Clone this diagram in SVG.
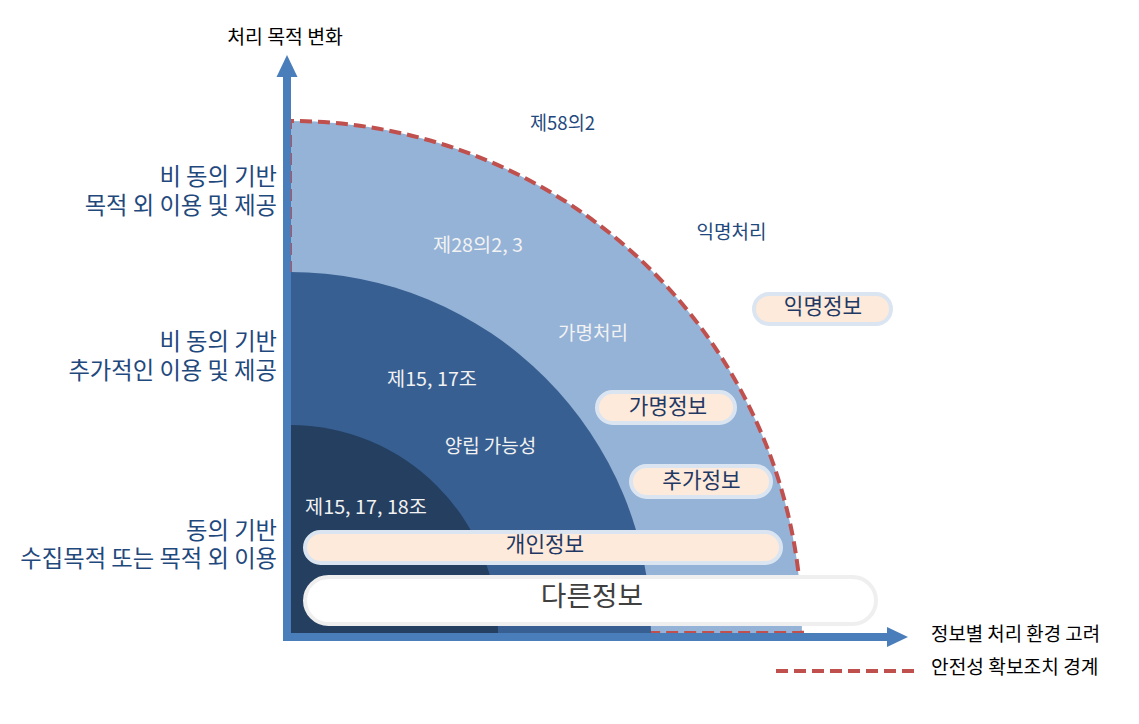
<svg xmlns="http://www.w3.org/2000/svg" width="1139" height="724" viewBox="0 0 1139 724">
<style>
text{font-family:"Noto Sans CJK KR","Noto Sans",sans-serif}
.lbl{font-size:23.3px;fill:#1f497d;text-anchor:end}
.in{font-size:19px;text-anchor:middle}
.w{fill:#f2f2f2}
.nv{fill:#1f497d}
.pill{fill:#fdeada;stroke:#dbe5f1;stroke-width:4}
.pt{font-size:21.3px;fill:#1f3864;text-anchor:middle}
.leg{font-size:19.2px;fill:#000}
.ax{fill:#4a7ebb}
</style>
<rect width="1139" height="724" fill="#fff"/>
<g id="zones">
<path id="zone-outer" d="M290,633 L290,121 A512,512 0 0 1 802,633 Z" fill="#95b3d7"/>
<path id="boundary" d="M290,633 L290,121 A512,512 0 0 1 802,633 Z" fill="none" stroke="#c0504d" stroke-width="4" stroke-dasharray="12,6"/>
<path id="zone-middle" d="M290,633 L290,272 A361,361 0 0 1 651,633 Z" fill="#375f91"/>
<path id="zone-inner" d="M290,633 L290,425 A208,208 0 0 1 498,633 Z" fill="#243f60"/>
</g>
<g id="connectors">
<rect class="ax" x="283" y="76" width="8" height="565"/>
<polygon class="ax" points="276.5,77 287,55 297.5,77"/>
<rect class="ax" x="283" y="633" width="606" height="8"/>
<polygon class="ax" points="887,627 908,637 887,647"/>
<line x1="776" y1="671" x2="914" y2="671" stroke="#c0504d" stroke-width="4" stroke-dasharray="12,6"/>
</g>
<g id="title"><text class="leg" x="285" y="43.5" text-anchor="middle" style="font-size:19.4px">처리 목적 변화</text></g>
<g id="axis-x-label"><text class="leg" x="931" y="641" style="font-size:18.9px">정보별 처리 환경 고려</text></g>
<g id="legend-boundary"><text class="leg" x="931" y="674">안전성 확보조치 경계</text></g>
<g id="label-nonconsent-purpose">
<text class="lbl" x="277" y="185">비 동의 기반</text>
<text class="lbl" x="277" y="213.5">목적 외 이용 및 제공</text>
</g>
<g id="label-nonconsent-additional">
<text class="lbl" x="277" y="350">비 동의 기반</text>
<text class="lbl" x="277" y="378.5">추가적인 이용 및 제공</text>
</g>
<g id="label-consent">
<text class="lbl" x="277" y="538.5">동의 기반</text>
<text class="lbl" x="277" y="566.5">수집목적 또는 목적 외 이용</text>
</g>
<g id="t-58"><text class="in nv" x="562.5" y="130" textLength="65" lengthAdjust="spacingAndGlyphs">제58의2</text></g>
<g id="t-anon-proc"><text class="in nv" x="731.5" y="239">익명처리</text></g>
<g id="t-28"><text class="in w" x="478" y="252" textLength="90" lengthAdjust="spacingAndGlyphs">제28의2, 3</text></g>
<g id="t-pseudo-proc"><text class="in w" x="593" y="339.5">가명처리</text></g>
<g id="t-1517"><text class="in w" x="432" y="385.5" textLength="90" lengthAdjust="spacingAndGlyphs">제15, 17조</text></g>
<g id="t-compat"><text class="in w" x="490.5" y="452.5">양립 가능성</text></g>
<g id="t-151718"><text class="in w" x="366" y="514" textLength="122" lengthAdjust="spacingAndGlyphs">제15, 17, 18조</text></g>
<g id="p-anon">
<rect class="pill" x="754" y="294" width="137" height="30" rx="15"/>
<text class="pt" x="823" y="314">익명정보</text>
</g>
<g id="p-pseudo">
<rect class="pill" x="597" y="392" width="138" height="31" rx="15.5"/>
<text class="pt" x="668" y="413.5">가명정보</text>
</g>
<g id="p-add">
<rect class="pill" x="631" y="466" width="140" height="31" rx="15.5"/>
<text class="pt" x="701.5" y="488">추가정보</text>
</g>
<g id="p-personal">
<rect class="pill" x="305" y="532" width="476" height="31" rx="15.5"/>
<text class="pt" x="545" y="552">개인정보</text>
</g>
<g id="p-other">
<rect x="305" y="577" width="571" height="47" rx="23.5" fill="#fff" stroke="#efefef" stroke-width="4"/>
<text x="592" y="606" text-anchor="middle" style="font-size:27.8px;fill:#404040">다른정보</text>
</g>
</svg>
